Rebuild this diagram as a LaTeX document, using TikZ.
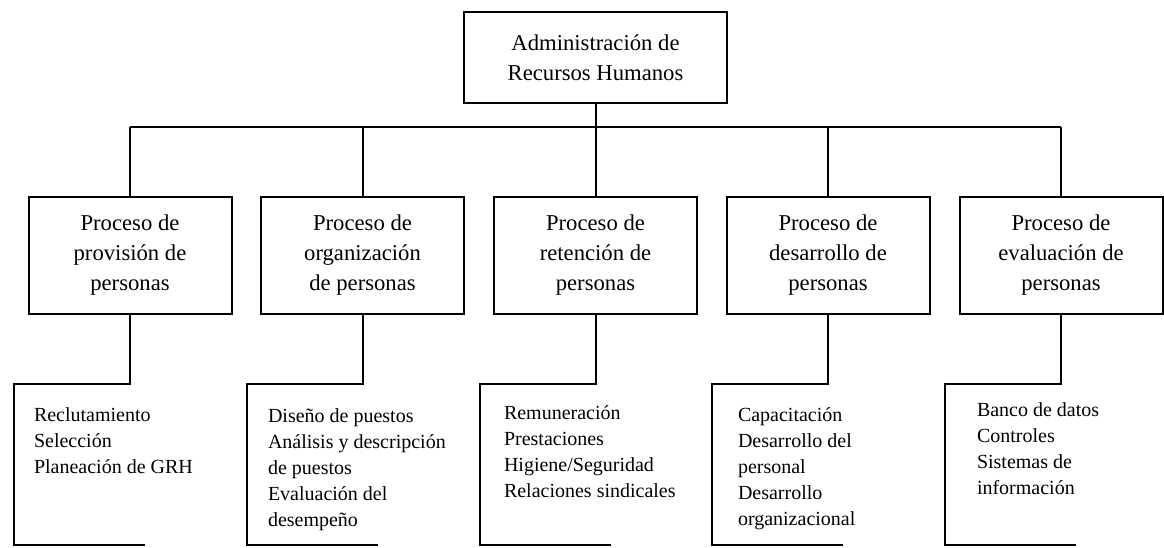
\documentclass[tikz,border=0pt]{standalone}
\usepackage{fontspec}
\setmainfont{Liberation Serif}
\begin{document}
\begin{tikzpicture}[x=0.75pt,y=-0.75pt,
  line width=1.5pt,
  topbox/.style={draw, minimum width=263*0.75pt, minimum height=91*0.75pt, inner sep=0pt, align=center, font=\fontsize{17}{22.5}\selectfont},
  procbox/.style={draw, minimum width=203*0.75pt, minimum height=117*0.75pt, inner sep=0pt, align=center, font=\fontsize{17}{22.5}\selectfont},
  listtext/.style={anchor=base west, inner sep=0pt, font=\fontsize{15}{19.5}\selectfont}
]
\useasboundingbox (0,0) rectangle (1164,548);
\node[topbox] (top) at (595.5,57.5) {Administración de\\Recursos Humanos};
\coordinate (bus) at (595.5,127);
\node[procbox] (p1) at (130,255.5) {Proceso de\\provisión de\\personas};
\node[procbox] (p2) at (362.5,255.5) {Proceso de\\organización\\de personas};
\node[procbox] (p3) at (595.5,255.5) {Proceso de\\retención de\\personas};
\node[procbox] (p4) at (828,255.5) {Proceso de\\desarrollo de\\personas};
\node[procbox] (p5) at (1061,255.5) {Proceso de\\evaluación de\\personas};
% bus
\draw (top.south) -- (bus);
\draw (p1.north |- bus) -- (p5.north |- bus);
\foreach \i in {1,...,5} {\draw (p\i.north |- bus) -- (p\i.north);}
% lower brackets
\foreach \i in {1,...,5} {
  \coordinate (b\i) at (p\i.south |- 0,384);
  \draw[line join=miter] (p\i.south) -- (b\i) -- ++(-116,0) -- ++(0,161) -- ++(131,0);
}
\node[listtext] (l1) at (33,422) {\begin{tabular}[t]{@{}l@{}}Reclutamiento\\Selección\\Planeación de GRH\end{tabular}};
\node[listtext] (l2) at (267,423) {\begin{tabular}[t]{@{}l@{}}Diseño de puestos\\Análisis y descripción\\de puestos\\Evaluación del\\desempeño\end{tabular}};
\node[listtext] (l3) at (503,420) {\begin{tabular}[t]{@{}l@{}}Remuneración\\Prestaciones\\Higiene/Seguridad\\Relaciones sindicales\end{tabular}};
\node[listtext] (l4) at (737,422) {\begin{tabular}[t]{@{}l@{}}Capacitación\\Desarrollo del\\personal\\Desarrollo\\organizacional\end{tabular}};
\node[listtext] (l5) at (976,417) {\begin{tabular}[t]{@{}l@{}}Banco de datos\\Controles\\Sistemas de\\información\end{tabular}};
\end{tikzpicture}
\end{document}
